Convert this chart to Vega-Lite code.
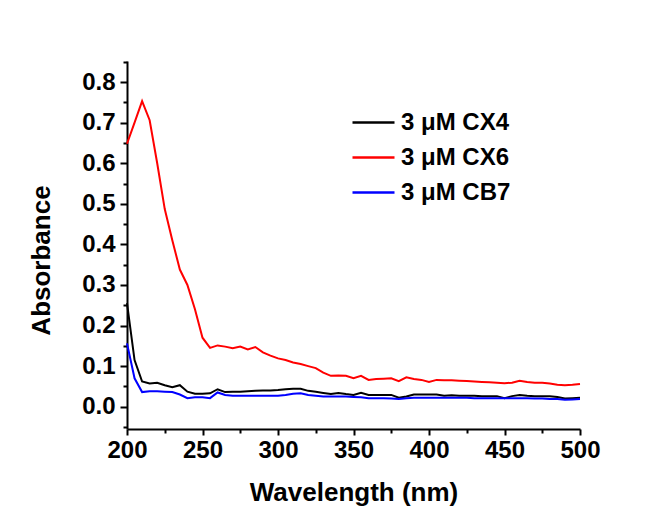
{
  "$schema": "https://vega.github.io/schema/vega-lite/v6.json",
  "autosize": {"type": "none"},
  "padding": {"left": 127, "top": 61, "right": 79, "bottom": 79},
  "width": 453,
  "height": 368,
  "background": "white",
  "config": {
    "view": {"stroke": null},
    "font": "Liberation Sans",
    "axis": {"grid": false, "labelFlush": false, "labelOverlap": false, "domainColor": "black", "tickColor": "black", "labelColor": "black", "titleColor": "black", "labelFont": "Liberation Sans", "titleFont": "Liberation Sans", "labelFontWeight": "bold", "titleFontWeight": "bold"}
  },
  "data": {
    "values": [
      {"w": 200, "cx4": 0.255, "cx6": 0.648, "cb7": 0.156},
      {"w": 205, "cx4": 0.115, "cx6": 0.700, "cb7": 0.070},
      {"w": 210, "cx4": 0.062, "cx6": 0.753, "cb7": 0.036},
      {"w": 215, "cx4": 0.057, "cx6": 0.706, "cb7": 0.038},
      {"w": 220, "cx4": 0.059, "cx6": 0.600, "cb7": 0.038},
      {"w": 225, "cx4": 0.053, "cx6": 0.487, "cb7": 0.037},
      {"w": 230, "cx4": 0.048, "cx6": 0.410, "cb7": 0.036},
      {"w": 235, "cx4": 0.053, "cx6": 0.338, "cb7": 0.030},
      {"w": 240, "cx4": 0.037, "cx6": 0.300, "cb7": 0.021},
      {"w": 245, "cx4": 0.032, "cx6": 0.240, "cb7": 0.023},
      {"w": 250, "cx4": 0.032, "cx6": 0.170, "cb7": 0.023},
      {"w": 255, "cx4": 0.033, "cx6": 0.145, "cb7": 0.021},
      {"w": 260, "cx4": 0.043, "cx6": 0.151, "cb7": 0.035},
      {"w": 265, "cx4": 0.036, "cx6": 0.148, "cb7": 0.029},
      {"w": 270, "cx4": 0.037, "cx6": 0.144, "cb7": 0.027},
      {"w": 275, "cx4": 0.037, "cx6": 0.148, "cb7": 0.027},
      {"w": 280, "cx4": 0.038, "cx6": 0.141, "cb7": 0.027},
      {"w": 285, "cx4": 0.039, "cx6": 0.147, "cb7": 0.027},
      {"w": 290, "cx4": 0.040, "cx6": 0.134, "cb7": 0.027},
      {"w": 295, "cx4": 0.040, "cx6": 0.126, "cb7": 0.027},
      {"w": 300, "cx4": 0.041, "cx6": 0.119, "cb7": 0.027},
      {"w": 305, "cx4": 0.043, "cx6": 0.115, "cb7": 0.029},
      {"w": 310, "cx4": 0.044, "cx6": 0.109, "cb7": 0.032},
      {"w": 315, "cx4": 0.044, "cx6": 0.105, "cb7": 0.033},
      {"w": 320, "cx4": 0.039, "cx6": 0.100, "cb7": 0.029},
      {"w": 325, "cx4": 0.037, "cx6": 0.095, "cb7": 0.027},
      {"w": 330, "cx4": 0.034, "cx6": 0.084, "cb7": 0.025},
      {"w": 335, "cx4": 0.031, "cx6": 0.076, "cb7": 0.025},
      {"w": 340, "cx4": 0.034, "cx6": 0.077, "cb7": 0.025},
      {"w": 345, "cx4": 0.031, "cx6": 0.076, "cb7": 0.025},
      {"w": 350, "cx4": 0.029, "cx6": 0.070, "cb7": 0.024},
      {"w": 355, "cx4": 0.034, "cx6": 0.076, "cb7": 0.023},
      {"w": 360, "cx4": 0.029, "cx6": 0.066, "cb7": 0.021},
      {"w": 365, "cx4": 0.029, "cx6": 0.068, "cb7": 0.021},
      {"w": 370, "cx4": 0.029, "cx6": 0.069, "cb7": 0.021},
      {"w": 375, "cx4": 0.029, "cx6": 0.070, "cb7": 0.020},
      {"w": 380, "cx4": 0.022, "cx6": 0.063, "cb7": 0.019},
      {"w": 385, "cx4": 0.025, "cx6": 0.0725, "cb7": 0.021},
      {"w": 390, "cx4": 0.030, "cx6": 0.068, "cb7": 0.022},
      {"w": 395, "cx4": 0.030, "cx6": 0.066, "cb7": 0.022},
      {"w": 400, "cx4": 0.030, "cx6": 0.061, "cb7": 0.022},
      {"w": 405, "cx4": 0.030, "cx6": 0.066, "cb7": 0.022},
      {"w": 410, "cx4": 0.027, "cx6": 0.065, "cb7": 0.022},
      {"w": 415, "cx4": 0.028, "cx6": 0.065, "cb7": 0.022},
      {"w": 420, "cx4": 0.027, "cx6": 0.064, "cb7": 0.022},
      {"w": 425, "cx4": 0.027, "cx6": 0.063, "cb7": 0.022},
      {"w": 430, "cx4": 0.027, "cx6": 0.062, "cb7": 0.021},
      {"w": 435, "cx4": 0.026, "cx6": 0.061, "cb7": 0.021},
      {"w": 440, "cx4": 0.026, "cx6": 0.060, "cb7": 0.021},
      {"w": 445, "cx4": 0.026, "cx6": 0.059, "cb7": 0.021},
      {"w": 450, "cx4": 0.021, "cx6": 0.058, "cb7": 0.021},
      {"w": 455, "cx4": 0.026, "cx6": 0.059, "cb7": 0.021},
      {"w": 460, "cx4": 0.029, "cx6": 0.064, "cb7": 0.021},
      {"w": 465, "cx4": 0.027, "cx6": 0.061, "cb7": 0.021},
      {"w": 470, "cx4": 0.026, "cx6": 0.059, "cb7": 0.020},
      {"w": 475, "cx4": 0.026, "cx6": 0.059, "cb7": 0.020},
      {"w": 480, "cx4": 0.026, "cx6": 0.057, "cb7": 0.019},
      {"w": 485, "cx4": 0.024, "cx6": 0.054, "cb7": 0.019},
      {"w": 490, "cx4": 0.020, "cx6": 0.053, "cb7": 0.017},
      {"w": 495, "cx4": 0.021, "cx6": 0.054, "cb7": 0.018},
      {"w": 500, "cx4": 0.022, "cx6": 0.056, "cb7": 0.019}
    ]
  },
  "transform": [{"fold": ["cx4", "cx6", "cb7"], "as": ["series", "abs"]}],
  "resolve": {"axis": {"x": "independent", "y": "independent"}},
  "layer": [
    {
      "mark": {"type": "point", "opacity": 0},
      "encoding": {
        "x": {"field": "w", "type": "quantitative", "scale": {"domain": [200, 500], "nice": false, "zero": false},
          "axis": {"orient": "bottom", "values": [225, 275, 325, 375, 425, 475], "labels": false, "domain": false, "tickSize": 4, "tickWidth": 2, "title": null}},
        "y": {"field": "abs", "type": "quantitative", "scale": {"domain": [-0.055, 0.852], "nice": false, "zero": false},
          "axis": {"orient": "left", "values": [-0.05, 0.05, 0.15, 0.25, 0.35, 0.45, 0.55, 0.65, 0.75, 0.85], "labels": false, "domain": false, "tickSize": 4, "tickWidth": 2, "title": null}}
      }
    },
    {
      "mark": {"type": "line", "strokeWidth": 2},
      "encoding": {
        "x": {"field": "w", "type": "quantitative", "scale": {"domain": [200, 500], "nice": false, "zero": false},
          "axis": {"orient": "bottom", "values": [200, 250, 300, 350, 400, 450, 500], "domainWidth": 2, "tickWidth": 2, "tickSize": 6, "labelFontSize": 24, "labelPadding": 3, "title": "Wavelength (nm)", "titleFontSize": 26, "titlePadding": 17}},
        "y": {"field": "abs", "type": "quantitative", "scale": {"domain": [-0.055, 0.852], "nice": false, "zero": false},
          "axis": {"orient": "left", "values": [0, 0.1, 0.2, 0.3, 0.4, 0.5, 0.6, 0.7, 0.8], "format": ".1f", "domainWidth": 2, "tickWidth": 2, "tickSize": 7, "labelFontSize": 24, "labelPadding": 5, "title": "Absorbance", "titleFontSize": 26, "titlePadding": 27, "titleY": 199}},
        "color": {"field": "series", "type": "nominal",
          "scale": {"domain": ["cx4", "cx6", "cb7"], "range": ["#000000", "#ff0000", "#0000ff"]},
          "legend": {"orient": "none", "legendX": 224, "legendY": 39, "title": null, "symbolType": "stroke", "symbolSize": 1764, "symbolStrokeWidth": 2.5, "labelFontSize": 24, "labelFont": "Liberation Sans", "labelFontWeight": "bold", "labelColor": "black", "labelOffset": 5, "rowPadding": -3.5,
            "labelExpr": "datum.value == 'cx4' ? '3 μM CX4' : datum.value == 'cx6' ? '3 μM CX6' : '3 μM CB7'"}
        }
      }
    }
  ]
}
